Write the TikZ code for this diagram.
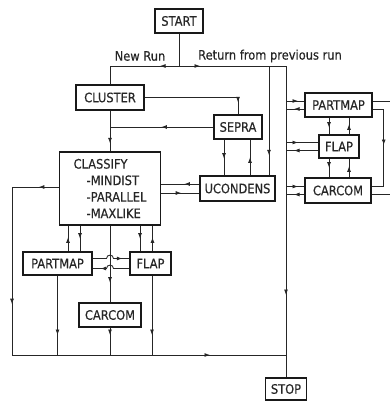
\documentclass[tikz,border=0pt]{standalone}
\usepackage{fontspec}
\setmainfont[FakeStretch=0.88,FakeBold=0.4]{DejaVu Sans}
\usetikzlibrary{arrows.meta,decorations.markings,calc}
\tikzset{
  box/.style={draw=black!90,line width=1.4pt,inner sep=0pt,align=center,text=black!85,font=\fontsize{13}{16.5}\selectfont},
  lbl/.style={inner sep=0pt,text=black!85,font=\fontsize{13}{16}\selectfont},
  wire/.style={draw=black!85,line width=0.85pt},
  ar/.style={postaction={decorate,decoration={markings,mark=at position #1 with {\arrow{Latex[length=5.5pt,width=4pt]}}}}},
}
\begin{document}
\begin{tikzpicture}[x=1pt,y=-1pt]
\useasboundingbox (0,0) rectangle (390,402);
% boxes
\node[box,minimum width=48pt,minimum height=24pt] (start) at (179,21) {START};
\node[box,minimum width=68pt,minimum height=25pt] (cluster) at (110,97.5) {CLUSTER};
\node[box,minimum width=48pt,minimum height=24pt] (sepra) at (238,127) {SEPRA};
\node[box,minimum width=101pt,minimum height=73pt,align=left] (classify) at (110,188.5)
  {CLASSIFY\\\hspace*{13pt}-MINDIST\\\hspace*{13pt}-PARALLEL\\\hspace*{13pt}-MAXLIKE};
\node[box,minimum width=75pt,minimum height=25pt] (ucondens) at (237.5,188.5) {UCONDENS};
\node[box,minimum width=67pt,minimum height=24pt] (partmapr) at (338.5,105) {PARTMAP};
\node[box,minimum width=40pt,minimum height=23pt] (flapr) at (339,146.5) {FLAP};
\node[box,minimum width=66pt,minimum height=25pt] (carcomr) at (338,190.5) {CARCOM};
\node[box,minimum width=69pt,minimum height=23pt] (partmapl) at (57.5,263.5) {PARTMAP};
\node[box,minimum width=41pt,minimum height=23pt] (flapl) at (150.5,263.5) {FLAP};
\node[box,minimum width=62pt,minimum height=24pt] (carcoml) at (110,315) {CARCOM};
\node[box,minimum width=41pt,minimum height=22pt] (stop) at (286,389) {STOP};
% labels
\node[lbl] (newrun) at (140,56) {New Run};
\node[lbl] (ret) at (270,56) {Return from previous run};
% junctions
\coordinate (jt) at (179,66);
\coordinate (jr) at (269,66);
\coordinate (bt) at (286,66);
\coordinate (lb) at (12,355);
\coordinate (bb) at (286,355);
\coordinate (e1) at (390,0);
% top
\draw[wire] (start.south) -- (jt);
\draw[wire,ar=19pt] (jt) -| (cluster.north);
\draw[wire,ar=21pt] (jt) -- (bt);
\draw[wire,ar=229pt] (bt) -- (stop.north);
\draw[wire,ar=-20pt] (jr) -- (jr |- ucondens.north);
% cluster / sepra
\draw[wire,ar=-12pt] (cluster.east) -| (sepra.north);
\draw[wire,ar=52pt] (sepra.west) -- (sepra.west -| cluster.south);
\draw[wire,ar=-8pt] (cluster.south) -- (classify.north);
% classify / ucondens
\draw[wire,ar=15pt] ([yshift=4.5pt]ucondens.west) -- ([yshift=4.5pt]classify.east);
\draw[wire,ar=20pt] ([yshift=-4.5pt]classify.east) -- ([yshift=-4.5pt]ucondens.west);
% sepra / ucondens
\draw[wire,ar=19pt] ([xshift=-14pt]sepra.south) -- ([xshift=-14pt]sepra.south |- ucondens.north);
\draw[wire,ar=18pt] ([xshift=12pt]sepra.south |- ucondens.north) -- ([xshift=12pt]sepra.south);
% right column links to bus
\foreach \n in {partmapr,flapr,carcomr}{
  \draw[wire,ar=12pt] ([yshift=4pt]\n.west -| bt) -- ([yshift=4pt]\n.west);
  \draw[wire,ar=-8pt] ([yshift=-4pt]\n.west) -- ([yshift=-4pt]\n.west -| bt);
}
% right column verticals
\draw[wire,ar=10pt] ([xshift=-10pt]flapr.north |- partmapr.south) -- ([xshift=-10pt]flapr.north);
\draw[wire,ar=10pt] ([xshift=10pt]flapr.north) -- ([xshift=10pt]flapr.north |- partmapr.south);
\draw[wire,ar=9pt] ([xshift=-10pt]flapr.south) -- ([xshift=-10pt]flapr.south |- carcomr.north);
\draw[wire,ar=11pt] ([xshift=10pt]flapr.south |- carcomr.north) -- ([xshift=10pt]flapr.south);
% right edge
\draw[wire] ([yshift=4pt]partmapr.east) -- ([yshift=4pt]partmapr.east -| e1);
\draw[wire,ar=47pt] ([yshift=-4pt]partmapr.east) -- ++(11,0) |- ([yshift=4pt]carcomr.east);
\draw[wire] ([yshift=-4pt]carcomr.east) -- ([yshift=-4pt]carcomr.east -| e1);
% left bus
\draw[wire,ar=20pt,ar=164pt] ([yshift=1.5pt]classify.west) -| (lb);
\draw[wire,ar=198pt] (lb) -- (bb);
% classify bottom pairs
\draw[wire,ar=14pt] ([xshift=10.5pt]partmapl.north) -- ([xshift=10.5pt]partmapl.north |- classify.south);
\draw[wire,ar=13pt] ([xshift=22.5pt]partmapl.north |- classify.south) -- ([xshift=22.5pt]partmapl.north);
\draw[wire,ar=13pt] ([xshift=-10.5pt]flapl.north |- classify.south) -- ([xshift=-10.5pt]flapl.north);
\draw[wire,ar=14pt] ([xshift=2pt]flapl.north) -- ([xshift=2pt]flapl.north |- classify.south);
% middle
\draw[wire,ar=57pt] (classify.south) -- (carcoml.north);
% hops
\draw[wire,ar=-7pt] ([yshift=5pt]partmapl.east) -- (106.5,258.5) .. controls (106.5,254) and (113.5,254) .. (113.5,258.5) -- ([yshift=5pt]flapl.west);
\draw[wire,ar=-8pt] ([yshift=-5pt]flapl.west) -- (113.5,268.5) .. controls (113.5,264) and (106.5,264) .. (106.5,268.5) -- ([yshift=-5pt]partmapl.east);
% bottom verticals
\draw[wire,ar=-20pt] (partmapl.south) -- (partmapl.south |- lb);
\draw[wire,ar=-20pt] (carcoml.south) -- (carcoml.south |- lb);
\draw[wire,ar=-20pt] ([xshift=1.5pt]flapl.south) -- ([xshift=1.5pt]flapl.south |- lb);
\end{tikzpicture}
\end{document}
